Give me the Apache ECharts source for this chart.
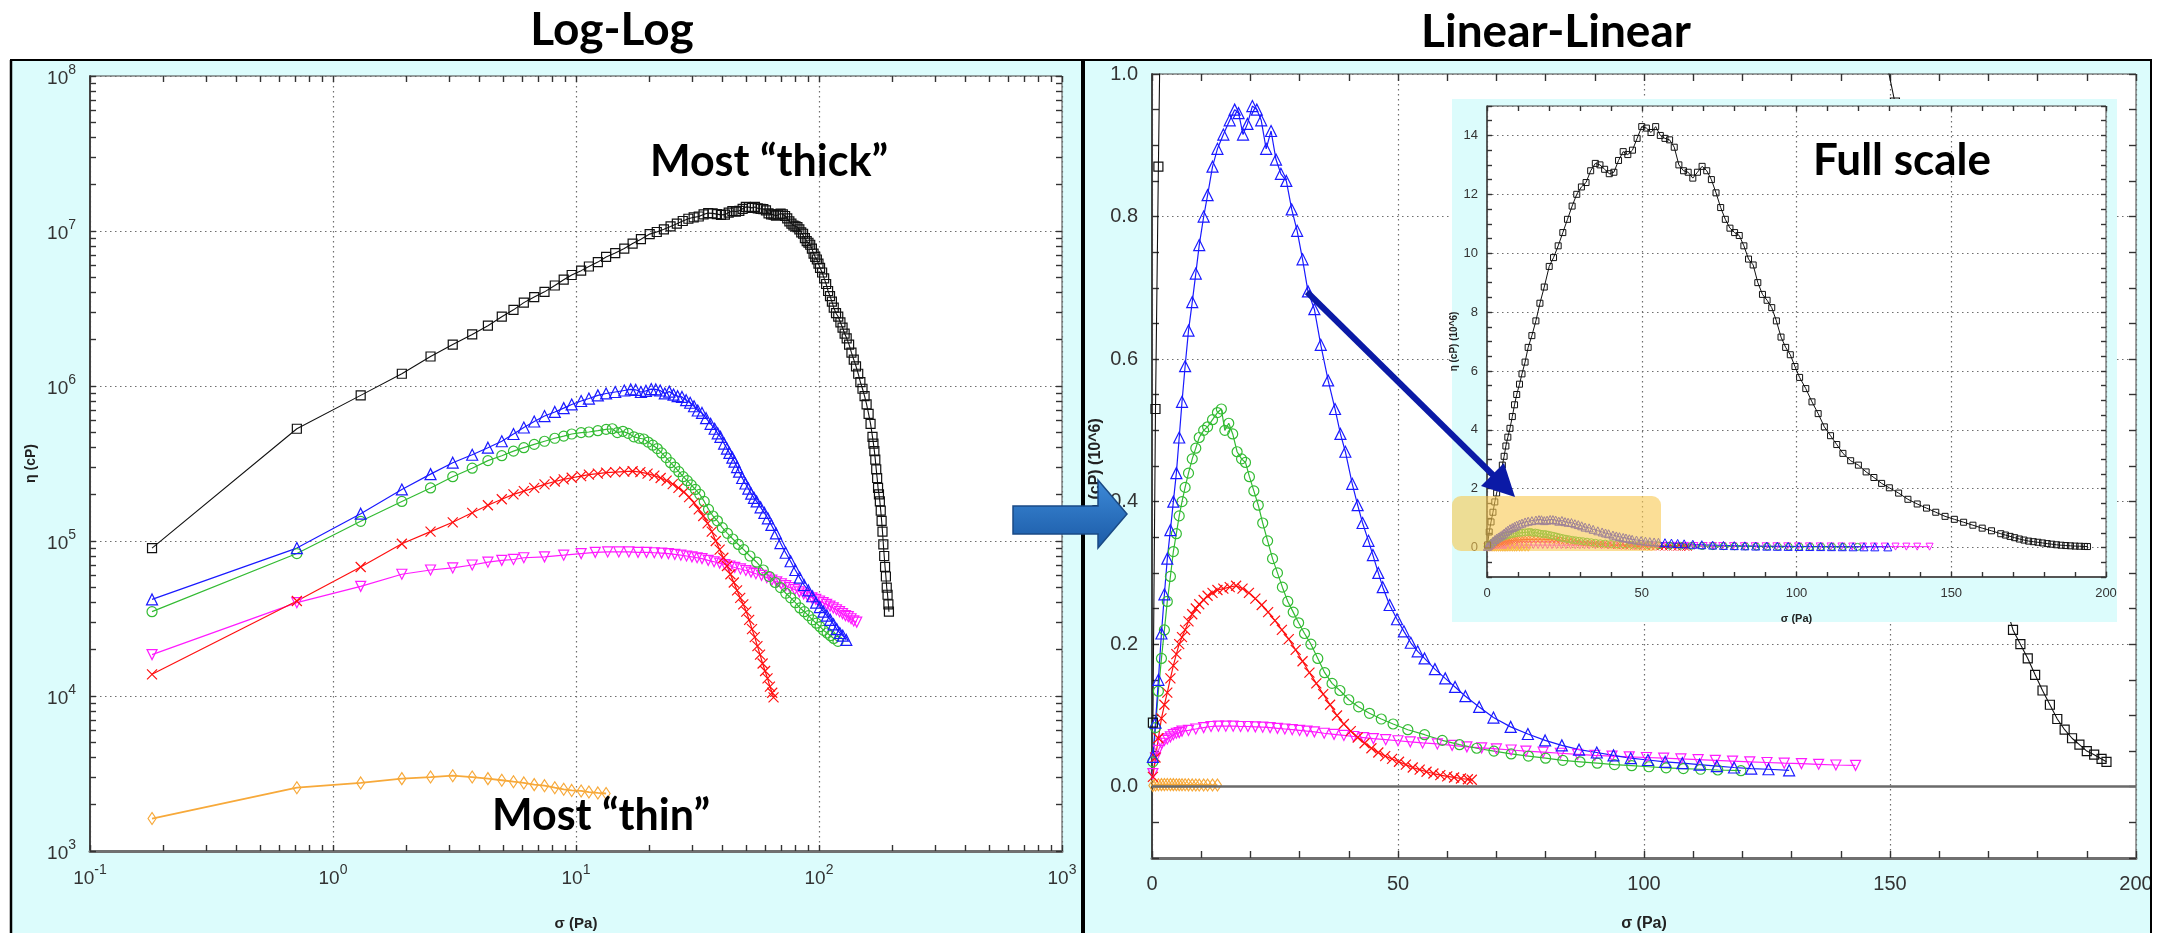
<!DOCTYPE html>
<html><head><meta charset="utf-8">
<script src="https://cdn.jsdelivr.net/npm/echarts@6/dist/echarts.min.js"></script>
<style>html,body{margin:0;padding:0;background:#fff}#c{width:2160px;height:933px}</style>
</head><body><div id="c"></div>
<script>
// ---------- DATA: [sigma (Pa), eta (cP)] ----------
const blackPts = [[0.18,9.0e4],[0.71,5.3e5],[1.3,8.7e5],[1.92,1.2e6],[2.52,1.55e6],[3.11,1.85e6],[3.74,2.15e6],[4.34,2.45e6],[4.95,2.8e6],[5.53,3.1e6],[6.1,3.45e6],[6.73,3.75e6],[7.42,4.05e6],[8.18,4.45e6],[8.9,4.85e6],[9.6,5.2e6],[10.5,5.55e6],[11.3,5.9e6],[12.3,6.3e6],[13.3,6.8e6],[14.5,7.2e6],[15.8,7.7e6],[17.1,8.3e6],[18.5,8.85e6],[20.1,9.55e6],[21.5,9.85e6],[23,10.25e6],[24.5,10.7e6],[26,11.15e6],[27.5,11.6e6],[29,12.0e6],[30.5,12.25e6],[32,12.4e6],[33.5,12.8e6],[35,13.05e6],[36.5,13.0e6],[38,12.85e6],[39.5,12.7e6],[41,12.75e6],[42.5,13.15e6],[44,13.45e6],[45.5,13.35e6],[47,13.5e6],[48.5,13.9e6],[50,14.3e6],[51.5,14.25e6],[53,14.1e6],[54.5,14.3e6],[56,14.0e6],[57.5,13.9e6],[59,13.85e6],[60.5,13.6e6],[62,13.0e6],[63.5,12.8e6],[65,12.75e6],[66.5,12.55e6],[68,12.75e6],[69.5,12.95e6],[71,12.8e6],[72.5,12.5e6],[74,12.05e6],[75.5,11.55e6],[77,11.15e6],[78.5,10.85e6],[80,10.7e6],[81.5,10.6e6],[83,10.25e6],[84.5,9.8e6],[86,9.6e6],[87.5,9.0e6],[89,8.6e6],[90.5,8.4e6],[92,8.15e6],[93.5,7.7e6],[95,7.15e6],[96.5,6.8e6],[98,6.55e6],[99.5,6.15e6],[101,5.78e6],[103,5.4e6],[105,4.95e6],[107,4.55e6],[109,4.1e6],[111,3.8e6],[113,3.5e6],[115,3.2e6],[117.5,2.95e6],[120,2.8e6],[122.5,2.57e6],[125,2.38e6],[127.5,2.18e6],[130,2.03e6],[133,1.85e6],[136,1.64e6],[139,1.48e6],[142,1.34e6],[145,1.2e6],[148,1.06e6],[151,9.6e5],[154,8.6e5],[157,7.6e5],[160,6.6e5],[163,5.7e5],[166,4.7e5],[167.5,4.25e5],[169,3.8e5],[170.5,3.35e5],[172,2.9e5],[173.5,2.55e5],[175,2.2e5],[176.5,2.0e5],[178,1.8e5],[179.5,1.57e5],[181,1.35e5],[182.5,1.15e5],[184,9.5e4],[185.5,8.0e4],[187,6.8e4],[188.5,5.9e4],[190,5.0e4],[191.5,4.5e4],[193,3.9e4],[194,3.5e4]];
const bluePts = [[0.18,4.2e4],[0.71,9.0e4],[1.3,1.5e5],[1.92,2.15e5],[2.52,2.7e5],[3.11,3.2e5],[3.74,3.6e5],[4.34,4.0e5],[4.95,4.4e5],[5.53,4.9e5],[6.1,5.4e5],[6.73,5.9e5],[7.42,6.4e5],[8.18,6.8e5],[8.9,7.2e5],[9.6,7.6e5],[10.5,8.0e5],[11.3,8.3e5],[12.3,8.7e5],[13.3,8.95e5],[14.5,9.15e5],[15.8,9.35e5],[16.8,9.5e5],[17.6,9.45e5],[18.5,9.15e5],[19.4,9.3e5],[20.4,9.55e5],[21.3,9.5e5],[22.2,9.35e5],[23.2,8.95e5],[24.2,9.2e5],[25.2,8.8e5],[26.2,8.6e5],[27.3,8.5e5],[28.4,8.1e5],[29.5,7.8e5],[30.6,7.4e5],[31.7,6.95e5],[33,6.7e5],[34.3,6.2e5],[35.8,5.7e5],[37.2,5.3e5],[38.3,4.95e5],[39.3,4.7e5],[40.7,4.25e5],[41.8,3.95e5],[42.8,3.7e5],[44,3.45e5],[44.9,3.25e5],[46,3.0e5],[46.9,2.8e5],[48.3,2.55e5],[49.8,2.35e5],[51.2,2.18e5],[52.6,2.02e5],[54,1.9e5],[55.4,1.8e5],[57.5,1.65e5],[59.6,1.52e5],[61.6,1.4e5],[63.7,1.27e5],[66.5,1.12e5],[69.4,9.7e4],[72.9,8.4e4],[76.4,7.4e4],[79.9,6.5e4],[83.3,5.8e4],[86.8,5.2e4],[90.4,4.8e4],[93.8,4.4e4],[97.3,4.0e4],[100.8,3.75e4],[104.3,3.5e4],[107.8,3.3e4],[111.3,3.1e4],[114.8,2.9e4],[118.3,2.7e4],[121.8,2.55e4],[125.3,2.45e4],[129.5,2.3e4]];
const greenPts = [[0.18,3.5e4],[0.71,8.3e4],[1.3,1.34e5],[1.92,1.8e5],[2.52,2.2e5],[3.11,2.6e5],[3.74,2.95e5],[4.34,3.3e5],[4.95,3.55e5],[5.53,3.8e5],[6.1,4.0e5],[6.73,4.2e5],[7.42,4.4e5],[8.18,4.6e5],[8.9,4.75e5],[9.6,4.9e5],[10.5,5.0e5],[11.3,5.05e5],[12.3,5.15e5],[13.3,5.25e5],[14.1,5.3e5],[14.8,5.0e5],[15.6,5.1e5],[16.4,4.95e5],[17.3,4.7e5],[18.2,4.6e5],[19.0,4.55e5],[19.8,4.35e5],[20.7,4.15e5],[21.6,3.95e5],[22.5,3.7e5],[23.5,3.45e5],[24.5,3.2e5],[25.5,3.0e5],[26.5,2.8e5],[27.6,2.6e5],[28.7,2.45e5],[29.8,2.3e5],[31,2.15e5],[32.3,2.0e5],[33.7,1.8e5],[35.1,1.6e5],[36.6,1.45e5],[38.2,1.35e5],[40,1.22e5],[42,1.12e5],[44.2,1.03e5],[46.6,9.5e4],[49,8.8e4],[52,8.0e4],[55.4,7.3e4],[59,6.5e4],[62.5,5.9e4],[66,5.4e4],[69.5,5.0e4],[73,4.6e4],[76.5,4.3e4],[80,4.0e4],[83.5,3.7e4],[87,3.5e4],[90.5,3.3e4],[94,3.1e4],[97.5,2.95e4],[101,2.8e4],[104.5,2.65e4],[108,2.55e4],[111.5,2.45e4],[115,2.35e4],[119.7,2.25e4]];
const redPts = [[0.18,1.38e4],[0.71,4.1e4],[1.3,6.8e4],[1.92,9.6e4],[2.52,1.15e5],[3.11,1.32e5],[3.74,1.52e5],[4.34,1.7e5],[4.95,1.86e5],[5.53,2.0e5],[6.1,2.1e5],[6.73,2.2e5],[7.42,2.32e5],[8.18,2.42e5],[8.9,2.5e5],[9.6,2.56e5],[10.5,2.62e5],[11.3,2.68e5],[12.3,2.72e5],[13.3,2.76e5],[14.5,2.78e5],[15.8,2.8e5],[17.1,2.82e5],[18.4,2.78e5],[19.7,2.72e5],[21,2.64e5],[22.3,2.55e5],[23.6,2.45e5],[25,2.33e5],[26.4,2.2e5],[27.8,2.07e5],[29.2,1.92e5],[30.6,1.76e5],[32,1.6e5],[33.4,1.45e5],[34.8,1.3e5],[36.2,1.15e5],[37.6,1.0e5],[39,8.8e4],[40.4,7.8e4],[41.8,6.9e4],[43.2,6.1e4],[44.6,5.4e4],[46,4.8e4],[47.4,4.3e4],[48.8,3.9e4],[50.2,3.5e4],[51.6,3.1e4],[53,2.7e4],[54.4,2.4e4],[55.8,2.1e4],[57.2,1.85e4],[58.6,1.62e4],[60,1.45e4],[61.4,1.3e4],[62.8,1.15e4],[64.2,1.05e4],[65,9.8e3]];
const magentaPts = [[0.18,1.85e4],[0.71,4.0e4],[1.3,5.1e4],[1.92,6.1e4],[2.52,6.5e4],[3.11,6.7e4],[3.74,7.0e4],[4.34,7.3e4],[4.95,7.5e4],[5.53,7.6e4],[6.1,7.8e4],[7.42,7.9e4],[8.9,8.1e4],[10.5,8.3e4],[12,8.45e4],[13.5,8.5e4],[15,8.5e4],[16.5,8.5e4],[18,8.45e4],[19.5,8.45e4],[21,8.4e4],[22.5,8.35e4],[24,8.3e4],[25.5,8.2e4],[27,8.1e4],[28.5,8.0e4],[30,7.9e4],[31.5,7.8e4],[33,7.7e4],[35,7.5e4],[37,7.35e4],[39,7.2e4],[41,7.05e4],[43,6.9e4],[45,6.75e4],[47.5,6.6e4],[50,6.45e4],[52.5,6.3e4],[55,6.15e4],[58,6.0e4],[61,5.8e4],[64,5.6e4],[67,5.45e4],[70,5.3e4],[73,5.15e4],[76,5.0e4],[79.5,4.85e4],[83,4.7e4],[86.5,4.55e4],[90,4.4e4],[93.5,4.3e4],[97,4.2e4],[100.5,4.1e4],[104,4.0e4],[107.5,3.9e4],[111,3.8e4],[114.5,3.7e4],[118,3.6e4],[121.5,3.5e4],[125,3.4e4],[128.5,3.3e4],[132,3.25e4],[135.5,3.15e4],[139,3.05e4],[143,3.0e4]];
const orangePts = [[0.18,1.62e3],[0.71,2.56e3],[1.3,2.75e3],[1.92,2.93e3],[2.52,3.0e3],[3.11,3.06e3],[3.74,3.0e3],[4.34,2.93e3],[4.95,2.86e3],[5.53,2.8e3],[6.1,2.75e3],[6.73,2.68e3],[7.42,2.64e3],[8.18,2.56e3],[8.9,2.5e3],[9.6,2.46e3],[10.5,2.44e3],[11.3,2.4e3],[12.3,2.37e3],[13.3,2.35e3]];

// ---------- TICKS / LABELS ----------
const logXLabels = [0.1, 1, 10, 100, 1000];
const logYLabels = [1e3, 1e4, 1e5, 1e6, 1e7, 1e8];
const linXLabels = [0, 50, 100, 150, 200];
const linYLabels = [0, 0.2, 0.4, 0.6, 0.8, 1.0];
const insYLabels = [0, 2, 4, 6, 8, 10, 12, 14];
const steps = (a, b, s) => { const r = []; for (let v = a; v <= b + 1e-9; v += s) r.push(+v.toFixed(4)); return r; };
const logXTicks = []; [0.1, 1, 10, 100].forEach(d => { for (let k = 1; k < 10; k++) logXTicks.push(+(k * d).toPrecision(3)); }); logXTicks.push(1000);
const logYTicks = []; [1e3, 1e4, 1e5, 1e6, 1e7].forEach(d => { for (let k = 1; k < 10; k++) logYTicks.push(k * d); }); logYTicks.push(1e8);
const linXTicks = steps(0, 200, 10);
const linYTicks = steps(-0.1, 1.0, 0.05);
const insYTicks = steps(-1, 15, 0.5);

// ---------- STYLE ----------
const FONT = "'Liberation Sans Narrow','Liberation Sans',Arial,sans-serif";
const TITLE_FONT = "Lato,'Open Sans',sans-serif";
const LBL = '#333';
const dots = { show: true, lineStyle: { color: '#6e6e6e', type: [1.5, 3.5], width: 1.2 } };
const noSplit = { show: false };
const sup = (bs, ss) => ({
  formatter: v => '{b|10}{s|' + Math.round(Math.log10(v)) + '}',
  rich: {
    b: { fontSize: bs, fontFamily: FONT, color: LBL, verticalAlign: 'bottom' },
    s: { fontSize: ss, fontFamily: FONT, color: LBL, verticalAlign: 'top', padding: [0, 0, 11, 0] }
  }
});
const nameStyle = fs => ({ fontWeight: 'bold', fontSize: fs, color: '#222', fontFamily: 'Liberation Sans, Arial, sans-serif' });

function axis(o) {
  const base = { z: 3, axisLine: { show: false, onZero: false }, axisTick: { show: true, inside: true, length: 6, lineStyle: { color: '#333', width: 1.4 } }, axisLabel: { show: false }, splitLine: noSplit, minorTick: { show: false } };
  const r = Object.assign({}, base, o);
  r.axisTick = Object.assign({}, base.axisTick, o.axisTick || {});
  r.axisLine = Object.assign({}, base.axisLine, o.axisLine || {});
  return r;
}
// grid-line only axis (overlay grids)
function gax(o) {
  return Object.assign({ z: 2, axisLine: { show: false, onZero: false }, axisTick: { show: false }, axisLabel: { show: false }, splitLine: dots, minorTick: { show: false } }, o);
}

const xAxes = [
  // 0,1: log-log bottom / top
  axis({ type: 'log', logBase: 10, gridIndex: 0, min: 0.1, max: 1000, position: 'bottom',
    axisLine: { show: true, lineStyle: { color: '#707070', width: 3 } },
    axisTick: { customValues: logXTicks },
    axisLabel: Object.assign({ show: true, customValues: logXLabels, margin: 12 }, sup(19, 14)),
    name: 'σ (Pa)', nameLocation: 'middle', nameGap: 65, nameTextStyle: nameStyle(15) }),
  axis({ type: 'log', logBase: 10, gridIndex: 0, min: 0.1, max: 1000, position: 'top', axisTick: { customValues: logXTicks } }),
  // 2,3: linear bottom / top
  axis({ type: 'value', gridIndex: 1, min: 0, max: 200, interval: 50, position: 'bottom',
    axisLine: { show: true, lineStyle: { color: '#707070', width: 3 } },
    axisTick: { customValues: linXTicks, length: 7 },
    axisLabel: { show: true, customValues: linXLabels, margin: 16, fontSize: 20, fontFamily: FONT, color: LBL },
    name: 'σ (Pa)', nameLocation: 'middle', nameGap: 58, nameTextStyle: nameStyle(16) }),
  axis({ type: 'value', gridIndex: 1, min: 0, max: 200, interval: 50, position: 'top', axisTick: { customValues: linXTicks, length: 7 } }),
  // 4,5: inset bottom / top
  axis({ type: 'value', gridIndex: 2, zlevel: 1, min: 0, max: 200, interval: 50, position: 'bottom',
    axisLine: { show: true, lineStyle: { color: '#555', width: 2 } },
    axisTick: { customValues: linXTicks, length: 5 },
    axisLabel: { show: true, customValues: linXLabels, margin: 10, fontSize: 13, fontFamily: FONT, color: LBL },
    name: 'σ (Pa)', nameLocation: 'middle', nameGap: 36, nameTextStyle: nameStyle(11) }),
  axis({ type: 'value', gridIndex: 2, zlevel: 1, min: 0, max: 200, interval: 50, position: 'top', axisTick: { customValues: linXTicks, length: 5 } }),
  // 6,7,8: grid lines only
  gax({ type: 'log', logBase: 10, gridIndex: 3, min: 0.1, max: 1000 }),
  gax({ type: 'value', gridIndex: 4, min: 0, max: 200, interval: 50 }),
  gax({ type: 'value', gridIndex: 5, zlevel: 1, min: 0, max: 200, interval: 50 })
];
const yAxes = [
  axis({ type: 'log', logBase: 10, gridIndex: 0, min: 1e3, max: 1e8, position: 'left',
    axisLine: { show: true, lineStyle: { color: '#444', width: 2 } },
    axisTick: { customValues: logYTicks },
    axisLabel: Object.assign({ show: true, customValues: logYLabels, margin: 14 }, sup(19, 14)),
    name: 'η (cP)', nameLocation: 'middle', nameGap: 52, nameTextStyle: nameStyle(14) }),
  axis({ type: 'log', logBase: 10, gridIndex: 0, min: 1e3, max: 1e8, position: 'right', axisTick: { customValues: logYTicks } }),
  axis({ type: 'value', gridIndex: 1, min: -0.1, max: 1.0, splitNumber: 5, position: 'left',
    axisLine: { show: true, lineStyle: { color: '#444', width: 2 } },
    axisTick: { customValues: linYTicks, length: 7 },
    axisLabel: { show: true, customValues: linYLabels, margin: 14, fontSize: 20, fontFamily: FONT, color: LBL, formatter: v => v.toFixed(1) },
    name: 'η (cP) (10^6)', nameLocation: 'middle', nameGap: 48, nameTextStyle: nameStyle(16) }),
  axis({ type: 'value', gridIndex: 1, min: -0.1, max: 1.0, splitNumber: 5, position: 'right', axisTick: { customValues: linYTicks, length: 7 } }),
  axis({ type: 'value', gridIndex: 2, zlevel: 1, min: -1, max: 15, splitNumber: 8, position: 'left',
    axisLine: { show: true, lineStyle: { color: '#444', width: 1.5 } },
    axisTick: { customValues: insYTicks, length: 5 },
    axisLabel: { show: true, customValues: insYLabels, margin: 9, fontSize: 13, fontFamily: FONT, color: LBL },
    name: 'η (cP) (10^6)', nameLocation: 'middle', nameGap: 28, nameTextStyle: nameStyle(10) }),
  axis({ type: 'value', gridIndex: 2, zlevel: 1, min: -1, max: 15, splitNumber: 8, position: 'right', axisTick: { customValues: insYTicks, length: 5 } }),
  gax({ type: 'log', logBase: 10, gridIndex: 3, min: 1e3, max: 1e8 }),
  gax({ type: 'value', gridIndex: 4, min: -0.1, max: 1.0, splitNumber: 5 }),
  gax({ type: 'value', gridIndex: 5, zlevel: 1, min: -1, max: 15, splitNumber: 8 })
];

const specs = [
  { pts: orangePts, color: '#f7a93a', symbol: 'diamond', size: [8, 12], lw: 1.8 },
  { pts: magentaPts, color: '#ff1aff', symbol: 'path://M0,0L10,0L5,10Z', size: 10, lw: 1.2 },
  { pts: redPts, color: '#ff1010', symbol: 'path://M0,0L10,10M10,0L0,10', size: 10, lw: 1.2 },
  { pts: greenPts, color: '#33bb33', symbol: 'circle', size: 10, lw: 1.2 },
  { pts: bluePts, color: '#1a1aff', symbol: 'triangle', size: 11, lw: 1.2 },
  { pts: blackPts, color: '#111111', symbol: 'rect', size: 9, lw: 1.1 }
];
const zeroLine = { silent: true, symbol: 'none', label: { show: false }, lineStyle: { color: '#6a6a6a', width: 2.5, type: 'solid' }, data: [{ yAxis: 0 }], animation: false };
const series = [];
specs.forEach((s, i) => {
  const common = { type: 'line', symbol: s.symbol, showSymbol: true, animation: false, silent: true,
    itemStyle: { color: 'rgba(0,0,0,0)', borderColor: s.color, borderWidth: 1.2 },
    lineStyle: { color: s.color, width: s.lw }, clip: true };
  series.push(Object.assign({}, common, { xAxisIndex: 0, yAxisIndex: 0, z: 4, symbolSize: s.size, data: s.pts }));
  series.push(Object.assign({}, common, { xAxisIndex: 2, yAxisIndex: 2, z: 4, symbolSize: s.size,
    data: s.pts.map(p => [p[0], p[1] / 1e6]), markLine: i === 0 ? zeroLine : undefined }));
  series.push(Object.assign({}, common, { xAxisIndex: 4, yAxisIndex: 4, zlevel: 1, z: 4,
    symbolSize: Array.isArray(s.size) ? [5, 7] : Math.max(5, s.size - 3),
    itemStyle: { color: 'rgba(0,0,0,0)', borderColor: s.color, borderWidth: 1 },
    lineStyle: { color: s.color, width: 1 },
    data: s.pts.map(p => [p[0], p[1] / 1e6]), markLine: i === 0 ? zeroLine : undefined }));
});

const txt = (text, x, y, size, extra) => Object.assign({ type: 'text', x: x, y: y, z: 30, silent: true,
  style: { text: text, fill: '#000', font: 'bold ' + size + 'px ' + TITLE_FONT, align: 'center', verticalAlign: 'middle', textAlign: 'center', textVerticalAlign: 'middle' } }, extra || {});
const CYAN = '#dcfcfc';
const graphic = [
  { type: 'rect', z: -10, silent: true, shape: { x: 11, y: 60, width: 1072, height: 873 }, style: { fill: CYAN } },
  { type: 'rect', z: -10, silent: true, shape: { x: 1083, y: 60, width: 1068, height: 873 }, style: { fill: CYAN } },
  { type: 'line', z: 30, silent: true, shape: { x1: 10, y1: 60, x2: 2152, y2: 60 }, style: { stroke: '#000', lineWidth: 2 } },
  { type: 'line', z: 30, silent: true, shape: { x1: 11, y1: 60, x2: 11, y2: 933 }, style: { stroke: '#000', lineWidth: 2.5 } },
  { type: 'line', z: 30, silent: true, shape: { x1: 1083, y1: 60, x2: 1083, y2: 933 }, style: { stroke: '#000', lineWidth: 4 } },
  { type: 'line', z: 30, silent: true, shape: { x1: 2151, y1: 60, x2: 2151, y2: 933 }, style: { stroke: '#000', lineWidth: 2 } },
  // inset background
  { type: 'rect', zlevel: 1, z: -10, silent: true, shape: { x: 1452, y: 99, width: 665, height: 523 }, style: { fill: CYAN } },
  // highlight box
  { type: 'rect', zlevel: 1, z: 20, silent: true, shape: { x: 1452, y: 496, width: 209, height: 55, r: 9 }, style: { fill: 'rgba(248,200,80,0.6)' } },
  // titles & annotations
  txt('Log-Log', 612, 30, 46),
  txt('Linear-Linear', 1556, 32, 46),
  txt('Most “thick”', 769, 162, 43),
  txt('Most “thin”', 601, 816, 43),
  txt('Full scale', 1902, 161, 44, { zlevel: 1 }),
  // zoom arrow
  { type: 'line', zlevel: 1, z: 30, silent: true, shape: { x1: 1307, y1: 292, x2: 1495, y2: 477 }, style: { stroke: '#0b1aa6', lineWidth: 6 } },
  { type: 'polygon', zlevel: 1, z: 30, silent: true, shape: { points: [[1515, 497], [1481, 486], [1504, 463]] }, style: { fill: '#0b1aa6' } },
  // block arrow between panels
  { type: 'polygon', zlevel: 1, z: 30, silent: true,
    shape: { points: [[1013, 506], [1098, 506], [1098, 480], [1127, 514], [1098, 548], [1098, 534], [1013, 534]] },
    style: { fill: new echarts.graphic.LinearGradient(0, 0, 0, 1, [{ offset: 0, color: '#3d8ad8' }, { offset: 1, color: '#1b5aa6' }]), stroke: '#1a4a85', lineWidth: 1.5 } }
];

const G0 = { left: 90, top: 76, width: 972, height: 775 };
const G1 = { left: 1152, top: 74, width: 984, height: 784 };
const G2 = { left: 1487, top: 106, width: 619, height: 471 };
const frame = { show: true, backgroundColor: '#fff', borderColor: '#444', borderWidth: 1, z: 1, outerBoundsMode: 'none' };
const bare = { show: false, z: 2, outerBoundsMode: 'none' };

const chart = echarts.init(document.getElementById('c'), null, { renderer: 'canvas' });
chart.setOption({
  animation: false,
  backgroundColor: '#fff',
  grid: [
    Object.assign({}, G0, frame),
    Object.assign({}, G1, frame),
    Object.assign({}, G2, frame, { zlevel: 1 }),
    Object.assign({}, G0, bare),
    Object.assign({}, G1, bare),
    Object.assign({}, G2, bare, { zlevel: 1 })
  ],
  xAxis: xAxes,
  yAxis: yAxes,
  series: series,
  graphic: { elements: graphic }
});
</script></body></html>
